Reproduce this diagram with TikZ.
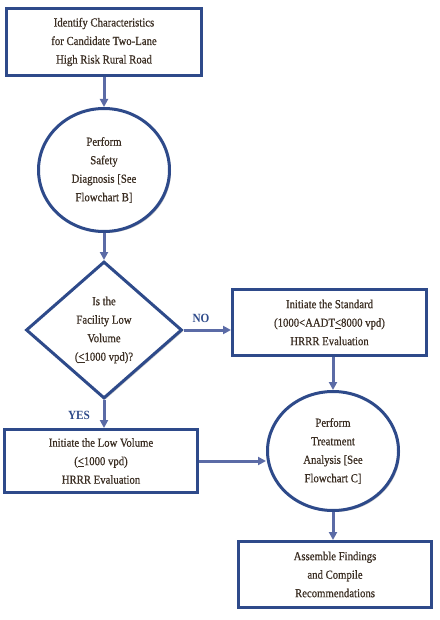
\documentclass[tikz,border=0pt]{standalone}
\usepackage{fontspec}
\setmainfont{Liberation Serif}
\newfontfamily\semib[FakeBold=0.6,FakeStretch=0.88]{Liberation Serif}
\newfontfamily\labfont[FakeStretch=0.9]{Liberation Serif}
\usetikzlibrary{shapes.geometric,arrows.meta,shadows}
\definecolor{navy}{HTML}{2E4A8A}
\definecolor{arrowc}{HTML}{5B6BA6}
\definecolor{txt}{HTML}{3A2D22}
\begin{document}
\begin{tikzpicture}[x=1pt,y=-1pt,
  every node/.style={font=\semib\fontsize{12.2}{18.5}\selectfont, text=txt, align=center, inner sep=0pt},
  shad/.style={drop shadow={shadow xshift=1.5pt, shadow yshift=-1.5pt, opacity=0.35, fill=black!60}},
  stepbox/.style={rectangle, draw=navy, line width=3pt, fill=white, shad},
  oval/.style={ellipse, draw=navy, line width=3pt, fill=white, shad},
  decide/.style={diamond, draw=navy, line width=3pt, fill=white, shad, aspect=1.14},
  conn/.style={draw=arrowc, line width=3pt, -{Triangle[length=8pt,width=8pt]}},
  lab/.style={font=\labfont\fontsize{12.5}{14}\selectfont\bfseries, text=navy}
]
\useasboundingbox (0,0) rectangle (439,620);
\fill[white] (0,0) rectangle (439,620);

\node[stepbox, minimum width=195pt, minimum height=67pt] (b1) at (104,42)
  {Identify Characteristics\\for Candidate Two-Lane\\High Risk Rural Road};
\node[oval, minimum width=131pt, minimum height=123pt] (e1) at (104,170)
  {Perform\\Safety\\Diagnosis [See\\Flowchart B]};
\node[decide, minimum width=156pt, minimum height=137pt] (d1) at (104,330)
  {Is the\\Facility Low\\Volume\\(\underline{<}1000 vpd)?};
\node[stepbox, minimum width=194pt, minimum height=66pt] (bn) at (329.5,322.5)
  {Initiate the Standard\\(1000<AADT\underline{<}8000 vpd)\\HRRR Evaluation};
\node[stepbox, minimum width=193pt, minimum height=63pt] (bl) at (101,461)
  {Initiate the Low Volume\\(\underline{<}1000 vpd)\\HRRR Evaluation};
\node[oval, minimum width=131pt, minimum height=119pt] (e2) at (333,451)
  {Perform\\Treatment\\Analysis [See\\Flowchart C]};
\node[stepbox, minimum width=193pt, minimum height=66pt] (bf) at (335,574.5)
  {Assemble Findings\\and Compile\\Recommendations};

\draw[conn] (b1.south) -- (e1.north);
\draw[conn] (e1.south) -- (d1.north);
\draw[conn] (d1.east) -- (d1.east -| bn.west);
\draw[conn] (d1.south) -- (d1.south |- bl.north);
\draw[conn] (bn.south -| e2.north) -- (e2.north);
\draw[conn] (bl.east) -- (bl.east -| e2.west);
\draw[conn] (e2.south) -- (e2.south |- bf.north);

\node[lab] (no) at (201,318) {NO};
\node[lab] (yes) at (79,415) {YES};
\end{tikzpicture}
\end{document}
